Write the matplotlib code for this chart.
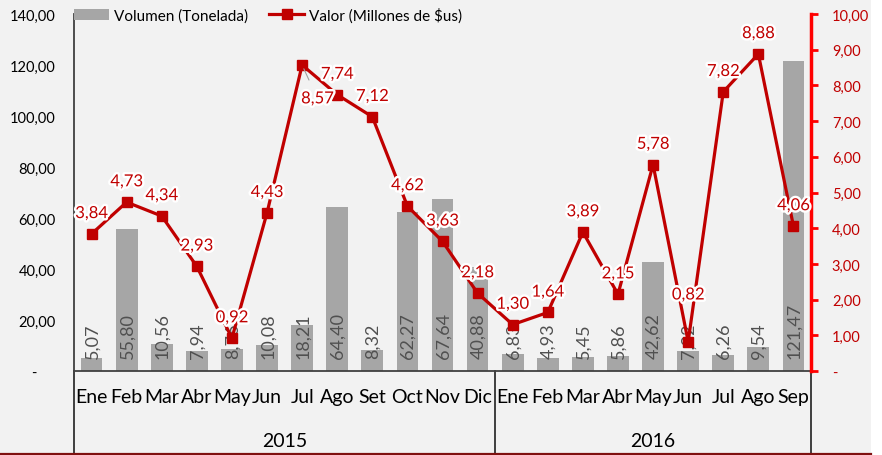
import numpy as np
import matplotlib.pyplot as plt
import matplotlib.patheffects as pe
from matplotlib.lines import Line2D
from matplotlib.patches import Patch, Rectangle

plt.rcParams['font.family'] = ['Lato', 'DejaVu Sans']

# Datos mensuales
meses = ['Ene', 'Feb', 'Mar', 'Abr', 'May', 'Jun', 'Jul', 'Ago', 'Set', 'Oct', 'Nov', 'Dic',
         'Ene', 'Feb', 'Mar', 'Abr', 'May', 'Jun', 'Jul', 'Ago', 'Sep']
anios = ['2015', '2016']
meses_por_anio = [12, 9]
volumen = [5.07, 55.80, 10.56, 7.94, 8.76, 10.08, 18.21, 64.40, 8.32, 62.27, 67.64, 40.88,
           6.83, 4.93, 5.45, 5.86, 42.62, 7.92, 6.26, 9.54, 121.47]
valor = [3.84, 4.73, 4.34, 2.93, 0.92, 4.43, 8.57, 7.74, 7.12, 4.62, 3.63, 2.18,
         1.30, 1.64, 3.89, 2.15, 5.78, 0.82, 7.82, 8.88, 4.06]

GRIS_FONDO = '#f2f2f2'
GRIS_BARRA = '#a6a6a6'
ROJO = '#c00000'


def fmt(v):
    return '{:.2f}'.format(v).replace('.', ',')


fig = plt.figure(figsize=(8.82, 4.56), dpi=100, facecolor='white')
fig.add_artist(Rectangle((0, 0), 871 / 882, 1, transform=fig.transFigure,
                         facecolor=GRIS_FONDO, edgecolor='none', zorder=-10))
fig.add_artist(Line2D([0, 871 / 882], [0.003, 0.003], transform=fig.transFigure,
                      color='#7f1010', lw=1.6))

ax = fig.add_axes([74 / 882, 1 - 372 / 456, (811 - 74) / 882, 357 / 456])
ax.set_facecolor('none')
x = np.arange(len(meses))

ax.bar(x, volumen, width=0.62, color=GRIS_BARRA, zorder=2)
for xi, v in zip(x, volumen):
    ax.annotate(fmt(v), (xi, 0), xytext=(0.5, 9), textcoords='offset points',
                rotation=90, ha='center', va='bottom', fontsize=13,
                color='#505050', zorder=3)

ax.set_xlim(-0.5, len(meses) - 0.5)
ax.set_ylim(0, 140)
ax.set_yticks(np.arange(0, 141, 20))
ax.set_yticklabels(['-     '] + [fmt(v) for v in np.arange(20, 141, 20)])
ax.tick_params(axis='y', length=0, pad=13, labelsize=10.5, labelcolor='black')
ax.set_xticks(x)
ax.set_xticklabels(meses)
ax.tick_params(axis='x', length=0, pad=12, labelsize=14)
for s in ['top', 'right']:
    ax.spines[s].set_visible(False)
ax.spines['left'].set_color('#404040')
ax.spines['left'].set_linewidth(1.3)
ax.spines['bottom'].set_color('#404040')
ax.spines['bottom'].set_linewidth(1.3)

# separadores de años y etiquetas del segundo nivel
xt = ax.get_xaxis_transform()
inicio = -0.5
bordes = [inicio]
for anio, n in zip(anios, meses_por_anio):
    ax.text(inicio + n / 2, -0.195, anio, transform=xt, ha='center', va='center',
            fontsize=14, clip_on=False)
    inicio += n
    bordes.append(inicio)
for b in bordes:
    ax.plot([b, b], [0, -0.235], transform=xt, color='#202020', lw=1.2, clip_on=False)

# eje derecho: valor
ax2 = ax.twinx()
ax2.plot(x, valor, color=ROJO, lw=2.3, marker='s', markersize=6.5, zorder=4)
ax2.set_ylim(0, 10)
ax2.set_yticks(np.arange(0, 11, 1))
ax2.set_yticklabels(['-'] + [fmt(v) for v in np.arange(1, 11, 1)])
ax2.tick_params(axis='y', colors='#ff0000', labelcolor=ROJO, length=5, width=2,
                pad=10, labelsize=10.5)
for s in ['top', 'left', 'bottom']:
    ax2.spines[s].set_visible(False)
ax2.spines['right'].set_color('#ff0000')
ax2.spines['right'].set_linewidth(2.5)

# etiquetas de valor; Jul 2015 va abajo a la derecha y Jun 2016 más arriba
halo = [pe.withStroke(linewidth=3.5, foreground='white')]
desplazamientos = {6: (11, -24), 17: (0, 34)}
for i, (xi, v) in enumerate(zip(x, valor)):
    dx, dy = desplazamientos.get(i, (0, 15))
    extra = {}
    if i == 6:
        extra['arrowprops'] = dict(arrowstyle='-', color='#a0a0a0', lw=0.8,
                                   shrinkA=6, shrinkB=3)
    ax2.annotate(fmt(v), (xi, v), xytext=(dx, dy), textcoords='offset points',
                 ha='center', va='center', fontsize=12, color=ROJO,
                 path_effects=halo, zorder=6, **extra)

handles = [Patch(facecolor=GRIS_BARRA, edgecolor='none'),
           Line2D([], [], color=ROJO, lw=2.3, marker='s', markersize=6.5)]
fig.legend(handles, ['Volumen (Tonelada)', 'Valor (Millones de $us)'],
           loc='center left', bbox_to_anchor=(68 / 882, 1 - 16 / 456), ncol=2,
           frameon=False, fontsize=11, handlelength=2.3, handletextpad=0.3,
           columnspacing=1.4, borderaxespad=0)

fig.savefig('out.png', dpi=100, facecolor=fig.get_facecolor())
